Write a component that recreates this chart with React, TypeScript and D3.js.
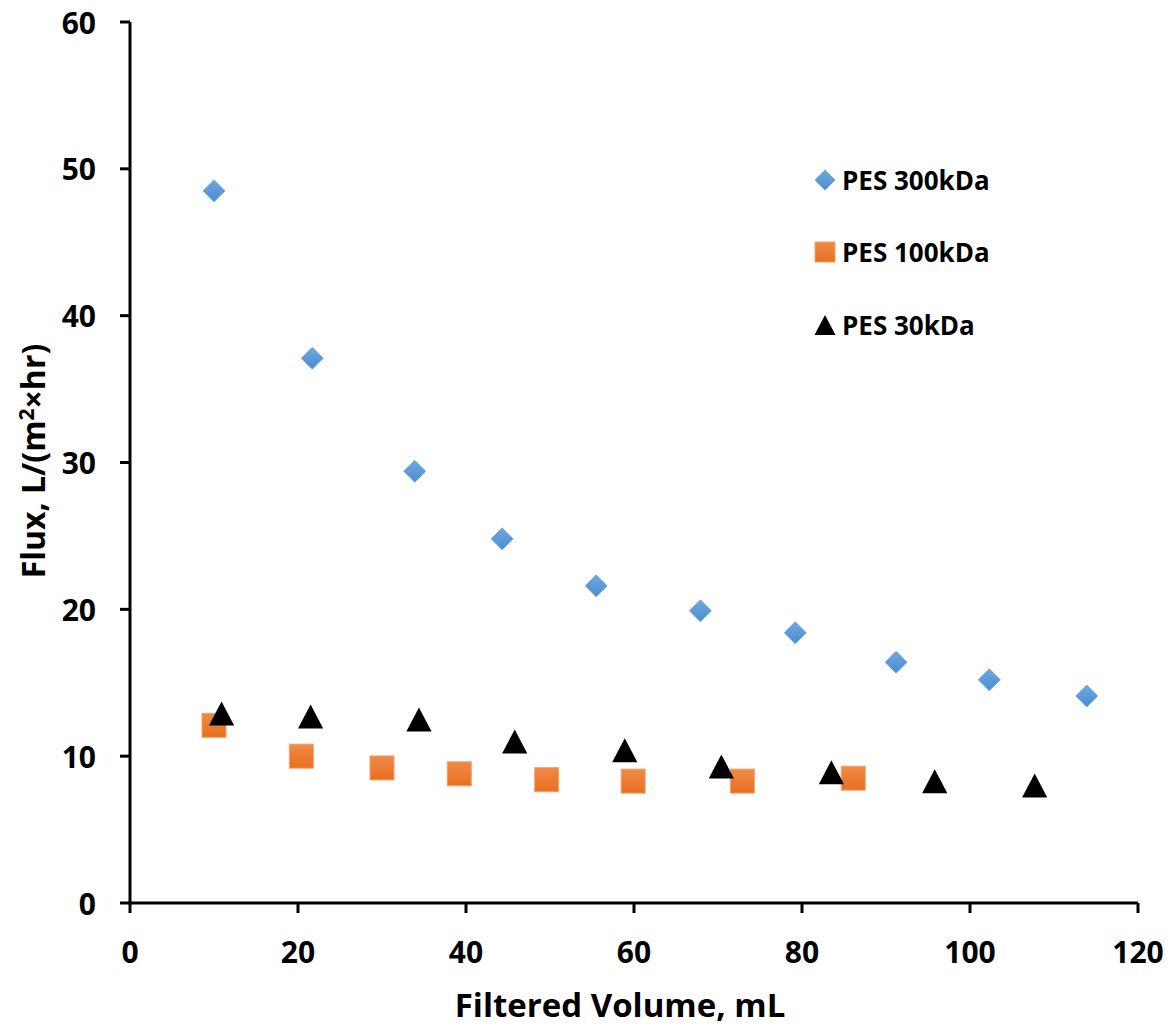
import React from "react";
import * as d3 from "d3";

const seriesNames = ["PES 300kDa", "PES 100kDa", "PES 30kDa"];

const pes300X = [10.0, 21.7, 33.9, 44.3, 55.5, 67.9, 79.2, 91.2, 102.3, 113.9];
const pes300Y = [48.5, 37.1, 29.4, 24.8, 21.6, 19.9, 18.4, 16.4, 15.2, 14.1];

const pes100X = [10.0, 20.4, 30.0, 39.2, 49.6, 59.9, 72.9, 86.1];
const pes100Y = [12.1, 10.0, 9.2, 8.8, 8.4, 8.3, 8.3, 8.5];

const pes30X = [10.9, 21.5, 34.4, 45.8, 58.9, 70.4, 83.5, 95.8, 107.7];
const pes30Y = [12.9, 12.7, 12.5, 11.0, 10.4, 9.3, 8.9, 8.3, 8.0];

const xTicks = [0, 20, 40, 60, 80, 100, 120];
const yTicks = [0, 10, 20, 30, 40, 50, 60];

const W = 1175;
const H = 1028;
const left = 130;
const right = 1138;
const top = 22;
const bottom = 903;

const FONT = "'Open Sans', 'DejaVu Sans', sans-serif";

function Diamond({ x, y, s }: { x: number; y: number; s: number }) {
  return (
    <path
      d={`M${x},${y - s}L${x + s},${y}L${x},${y + s}L${x - s},${y}Z`}
      fill="url(#gBlue)"
      stroke="#6aa5dc"
      strokeWidth={0.8}
    />
  );
}
function Square({ x, y, s }: { x: number; y: number; s: number }) {
  return (
    <rect x={x - s} y={y - s} width={2 * s} height={2 * s} fill="url(#gOrange)" stroke="#f4a06a" strokeWidth={1} />
  );
}
function Tri({ x, y, s }: { x: number; y: number; s: number }) {
  return (
    <path d={`M${x},${y - s}L${x + s * 1.05},${y + s}L${x - s * 1.05},${y + s}Z`} fill="#000" />
  );
}

export default function App() {
  const xs = d3.scaleLinear().domain([0, 120]).range([left, right]);
  const ys = d3.scaleLinear().domain([0, 60]).range([bottom, top]);
  const legY = [180, 252, 325];

  return (
    <svg width={W} height={H} style={{ display: "block", position: "absolute", left: 0, top: 0 }}>
      <defs>
        <linearGradient id="gBlue" x1="0" y1="0" x2="0" y2="1">
          <stop offset="0" stopColor="#6fa9de" />
          <stop offset="1" stopColor="#4b8cd0" />
        </linearGradient>
        <linearGradient id="gOrange" x1="0" y1="0" x2="0" y2="1">
          <stop offset="0" stopColor="#f08a48" />
          <stop offset="1" stopColor="#e86f1e" />
        </linearGradient>
      </defs>
      <rect width={W} height={H} fill="#fff" />
      {/* axes */}
      <line x1={left} x2={left} y1={top} y2={bottom + 1.5} stroke="#000" strokeWidth={3} />
      <line x1={left - 1.5} x2={right} y1={bottom} y2={bottom} stroke="#000" strokeWidth={3} />
      {yTicks.map((t) => (
        <g key={"y" + t}>
          <line x1={left - 10} x2={left} y1={ys(t)} y2={ys(t)} stroke="#000" strokeWidth={3} />
          <text
            x={left - 34}
            y={ys(t)}
            textAnchor="end"
            dominantBaseline="central"
            fontFamily={FONT}
            fontWeight={700}
            fontSize={30}
          >
            {t}
          </text>
        </g>
      ))}
      {xTicks.map((t) => (
        <g key={"x" + t}>
          <line x1={xs(t)} x2={xs(t)} y1={bottom} y2={bottom + 10} stroke="#000" strokeWidth={3} />
          <text
            x={xs(t)}
            y={bottom + 60}
            textAnchor="middle"
            fontFamily={FONT}
            fontWeight={700}
            fontSize={30}
          >
            {t}
          </text>
        </g>
      ))}
      <text x={620} y={1017} textAnchor="middle" fontFamily={FONT} fontWeight={700} fontSize={33}>
        Filtered Volume, mL
      </text>
      <text
        transform={`translate(45,461) rotate(-90)`}
        textAnchor="middle"
        fontFamily={FONT}
        fontWeight={700}
        fontSize={32}
      >
        Flux, L/(m<tspan fontSize={21} dy={-11}>2</tspan>
        <tspan dy={11}>×hr)</tspan>
      </text>

      {/* data */}
      {pes300X.map((v, i) => (
        <Diamond key={"d" + i} x={xs(v)} y={ys(pes300Y[i])} s={11} />
      ))}
      {pes100X.map((v, i) => (
        <Square key={"s" + i} x={xs(v)} y={ys(pes100Y[i])} s={12} />
      ))}
      {pes30X.map((v, i) => (
        <Tri key={"t" + i} x={xs(v)} y={ys(pes30Y[i])} s={12} />
      ))}

      {/* legend */}
      <Diamond x={825} y={legY[0]} s={10} />
      <Square x={825} y={legY[1]} s={10} />
      <Tri x={825} y={legY[2]} s={10} />
      {seriesNames.map((n, i) => (
        <text
          key={n}
          x={842}
          y={legY[i]}
          dominantBaseline="central"
          fontFamily={FONT}
          fontWeight={700}
          fontSize={26}
        >
          {n}
        </text>
      ))}
    </svg>
  );
}
